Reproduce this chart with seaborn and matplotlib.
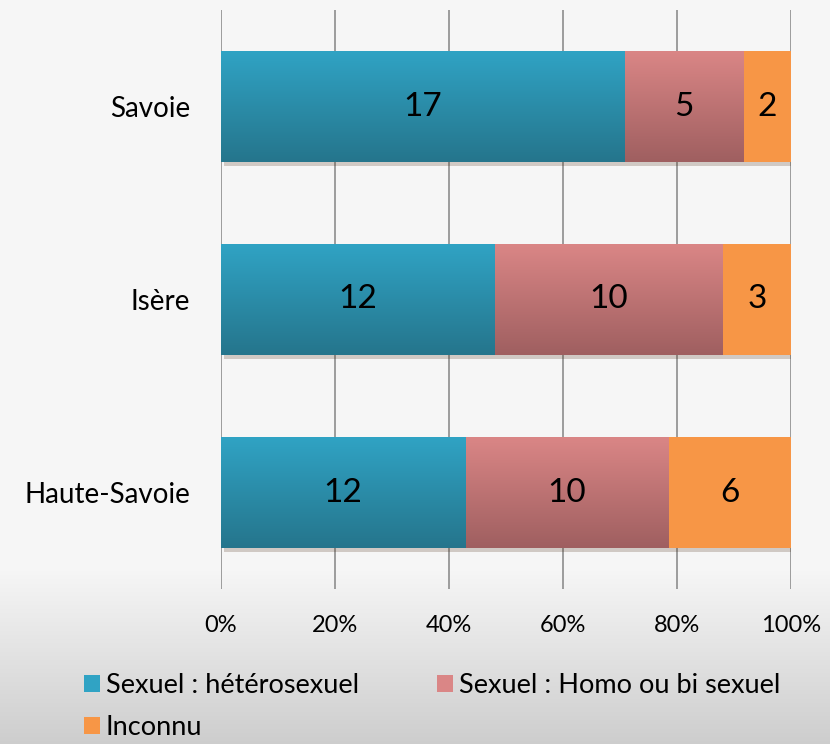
import numpy as np
import pandas as pd
import matplotlib
matplotlib.use("Agg")
import matplotlib.pyplot as plt
import matplotlib.patheffects as pe
from matplotlib.colors import LinearSegmentedColormap
from matplotlib.patches import Patch
import seaborn as sns

# ---------------------------------------
# Data
# ---------------------------------------
regions = ["Savoie", "Isère", "Haute-Savoie"]
hetero = [17, 12, 12]
homo = [5, 10, 10]
inconnu = [2, 3, 6]
series_names = ["Sexuel : hétérosexuel", "Sexuel : Homo ou bi sexuel", "Inconnu"]
xticks = [0, 20, 40, 60, 80, 100]

df = pd.DataFrame({"region": regions, "hetero": hetero, "homo": homo, "inconnu": inconnu})
total = df[["hetero", "homo", "inconnu"]].sum(axis=1)
df["p_hetero"] = df["hetero"] / total * 100
df["p_homo"] = df["homo"] / total * 100
df["p_inconnu"] = df["inconnu"] / total * 100
df["c_homo"] = df["p_hetero"] + df["p_homo"]
df["c_all"] = df["c_homo"] + df["p_inconnu"]

teal_top, teal_bot = "#30a3c4", "#25758c"
pink_top, pink_bot = "#da8686", "#9f5f60"
orange = "#f79646"

# ---------------------------------------
# Figure
# ---------------------------------------
sns.set_style("white")
plt.rcParams["font.family"] = ["Lato", "DejaVu Sans"]
plt.rcParams["text.color"] = "black"
plt.rcParams["xtick.color"] = "black"
plt.rcParams["ytick.color"] = "black"

fig = plt.figure(figsize=(8.3, 7.44), dpi=100)

# background gradient
bg = fig.add_axes([0, 0, 1, 1], zorder=-5)
rows = np.arange(744)
shade = np.where(rows < 570, 0.965, 0.965 - (rows - 570) / (744 - 570) * 0.16)
bg_img = np.stack([shade, shade, shade], axis=-1)[:, None, :]
bg.imshow(bg_img, aspect="auto", extent=(0, 1, 0, 1))
bg.axis("off")

ax = fig.add_axes([221 / 830, 1 - 589 / 744, 570 / 830, 579 / 744])
ax.set_facecolor("none")

bar_w = 0.57
sns.barplot(data=df, x="c_all", y="region", orient="h", color=orange,
            width=bar_w, saturation=1, zorder=2, linewidth=0, ax=ax)
for p in ax.patches:
    p.set_path_effects([pe.SimplePatchShadow(offset=(2, -3), alpha=0.22), pe.Normal()])
n0 = len(ax.patches)
sns.barplot(data=df, x="c_homo", y="region", orient="h", color=pink_bot,
            width=bar_w, saturation=1, zorder=3, linewidth=0, ax=ax)
pink_patches = ax.patches[n0:]
n1 = len(ax.patches)
sns.barplot(data=df, x="p_hetero", y="region", orient="h", color=teal_bot,
            width=bar_w, saturation=1, zorder=4, linewidth=0, ax=ax)
teal_patches = ax.patches[n1:]


def gradient_fill(patch, top, bottom):
    x0, y0 = patch.get_x(), patch.get_y()
    w, h = patch.get_width(), patch.get_height()
    cmap = LinearSegmentedColormap.from_list("g", [top, bottom])
    grad = np.linspace(0, 1, 256).reshape(-1, 1)
    im = ax.imshow(grad, cmap=cmap, extent=(x0, x0 + w, y0 + h, y0),
                   aspect="auto", zorder=patch.get_zorder() + 0.1)
    im.set_clip_path(patch)


for p in pink_patches:
    gradient_fill(p, pink_top, pink_bot)
for p in teal_patches:
    gradient_fill(p, teal_top, teal_bot)

# value labels
for i, row in df.iterrows():
    ax.text(row["p_hetero"] / 2, i, str(row["hetero"]), ha="center", va="center",
            fontsize=24, zorder=10)
    ax.text(row["p_hetero"] + row["p_homo"] / 2, i, str(row["homo"]), ha="center",
            va="center", fontsize=24, zorder=10)
    ax.text(row["c_homo"] + row["p_inconnu"] / 2, i, str(row["inconnu"]), ha="center",
            va="center", fontsize=24, zorder=10)

ax.set_xlim(0, 100)
ax.set_ylim(2.5, -0.5)
ax.set_xticks(xticks)
ax.set_xticklabels([f"{t}%" for t in xticks])
ax.set_xlabel("")
ax.set_ylabel("")
ax.xaxis.grid(True, color="#959595", lw=1.3)
ax.set_axisbelow(True)
for s in ax.spines.values():
    s.set_visible(False)
ax.tick_params(axis="x", length=0, pad=19, labelsize=17)
ax.tick_params(axis="y", length=0, pad=22, labelsize=20)

# legend, row-wise order
handles = [Patch(facecolor=teal_top, edgecolor="none"),
           Patch(facecolor=orange, edgecolor="none"),
           Patch(facecolor=pink_top, edgecolor="none")]
labels = [series_names[0], series_names[2], series_names[1]]
fig.legend(handles, labels, ncol=2, loc="upper left", bbox_to_anchor=(73 / 830, 1 - 662 / 744),
           frameon=False, fontsize=19.5, handlelength=0.6, handleheight=0.6,
           handletextpad=0.2, columnspacing=2.9, labelspacing=0.65, borderaxespad=0)

fig.savefig("out.png", dpi=100)
